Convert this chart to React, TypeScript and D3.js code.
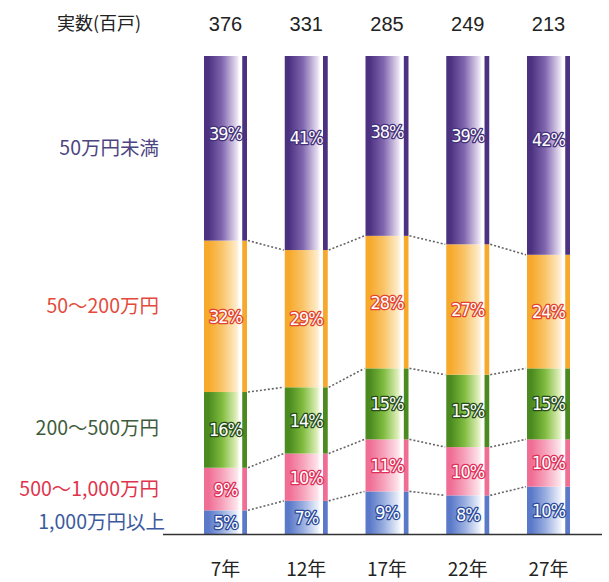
import * as d3 from "d3";

// 年次と実数（百戸）
const years = ["7年", "12年", "17年", "22年", "27年"];
const totals = [376, 331, 285, 249, 213];

// 下から順の階層
const categories = ["1,000万円以上", "500〜1,000万円", "200〜500万円", "50〜200万円", "50万円未満"];
const share1000 = [5, 7, 9, 8, 10];
const share500 = [9, 10, 11, 10, 10];
const share200 = [16, 14, 15, 15, 15];
const share50 = [32, 29, 28, 27, 24];
const shareUnder50 = [39, 41, 38, 39, 42];

const seriesValues = [share1000, share500, share200, share50, shareUnder50];

const W = 609;
const H = 582;
const BAR_W = 43;

// dark, mid, light, text stroke, legend color
const palette = [
  { dark: "#5a79c8", mid: "#97acdf", light: "#e8eefa", stroke: "#2c4b9c", legend: "#3b5a9e" },
  { dark: "#f06d94", mid: "#f6a1ba", light: "#fde3ea", stroke: "#df2f58", legend: "#e0334c" },
  { dark: "#4a8a1f", mid: "#7fbb3e", light: "#e0f0bd", stroke: "#264d17", legend: "#3e5b3b" },
  { dark: "#f6a92b", mid: "#f9c468", light: "#feeccb", stroke: "#e2432c", legend: "#e24b3b" },
  { dark: "#4c3181", mid: "#8066ae", light: "#e6ddf0", stroke: "#45307a", legend: "#4d4580" },
];

export default function App() {
  const rows = years.map((y, i) => {
    const r: Record<string, number | string> = { year: y };
    categories.forEach((c, k) => (r[c] = seriesValues[k][i]));
    return r;
  });
  const stack = d3
    .stack<Record<string, number | string>>()
    .keys(categories)
    .offset(d3.stackOffsetExpand);
  const layers = stack(rows as any);

  const x = d3.scalePoint<string>().domain(years).range([225.5, 548.5]);
  const y = d3.scaleLinear().domain([0, 1]).range([534, 56]);

  const first = layers.map((l) => l[0]);
  const legendY = first.map((s, k) => (y(s[0]) + y(s[1])) / 2 + [0, 0, -2, -10, 0][k]);

  return (
    <svg
      width={W}
      height={H}
      style={{ position: "absolute", left: 0, top: 0, background: "#fff" }}
    >
      <defs>
        {palette.map((p, k) => (
          <linearGradient key={k} id={`g${k}`} x1="0" x2="1" y1="0" y2="0">
            <stop offset="0" stopColor={p.dark} />
            <stop offset="0.1" stopColor={p.dark} />
            <stop offset="0.42" stopColor={p.mid} />
            <stop offset="0.76" stopColor={p.light} />
            <stop offset="0.83" stopColor="#ffffff" />
            <stop offset="0.88" stopColor="#ffffff" />
            <stop offset="0.9" stopColor={p.dark} />
            <stop offset="1" stopColor={p.dark} />
          </linearGradient>
        ))}
      </defs>

      {/* header */}
      <text x={57} y={30} fontSize={18} fill="#222" fontFamily="'Noto Sans CJK JP', sans-serif">
        実数(百戸)
      </text>
      {years.map((yr, i) => (
        <text
          key={yr}
          x={x(yr)}
          y={31}
          textAnchor="middle"
          fontSize={20}
          fill="#222"
          fontFamily="'Liberation Sans', Arial, sans-serif"
        >
          {totals[i]}
        </text>
      ))}

      {/* bars */}
      {layers.map((layer, k) =>
        layer.map((s, i) => (
          <rect
            key={`${k}-${i}`}
            x={(x(years[i]) as number) - BAR_W / 2}
            y={y(s[1])}
            width={BAR_W}
            height={y(s[0]) - y(s[1])}
            fill={`url(#g${k})`}
          />
        ))
      )}

      {/* dotted connectors */}
      {layers.slice(0, 4).map((layer, k) =>
        layer.slice(0, -1).map((s, i) => (
          <line
            key={`c${k}-${i}`}
            x1={(x(years[i]) as number) + BAR_W / 2 + 1}
            x2={(x(years[i + 1]) as number) - BAR_W / 2 - 1}
            y1={y(s[1])}
            y2={y(layer[i + 1][1])}
            stroke="#666"
            strokeWidth={1.6}
            strokeDasharray="2 2"
          />
        ))
      )}

      {/* percent labels */}
      {layers.map((layer, k) =>
        layer.map((s, i) => {
          const top = y(s[1]);
          const bot = y(s[0]);
          const cy = k === 4 ? top + (bot - top) * 0.42 : (top + bot) / 2;
          return (
            <text
              key={`t${k}-${i}`}
              x={x(years[i])}
              y={cy}
              dy="0.36em"
              textAnchor="middle"
              fontSize={18}
              letterSpacing={-1}
              fontFamily="'DejaVu Sans Condensed', 'Liberation Sans Narrow', sans-serif"
              fill="#ffffff"
              stroke={palette[k].stroke}
              strokeWidth={2.6}
              paintOrder="stroke"
              strokeLinejoin="round"
            >
              {seriesValues[k][i]}%
            </text>
          );
        })
      )}

      {/* baseline */}
      <line x1={163} x2={602} y1={534.5} y2={534.5} stroke="#333" strokeWidth={1.5} />

      {/* legend labels */}
      {categories.map((c, k) => (
        <text
          key={c}
          x={k === 0 ? 165 : 159}
          y={legendY[k]}
          dy="0.36em"
          textAnchor="end"
          fontSize={19.5}
          fill={palette[k].legend}
          fontFamily="'Noto Sans CJK JP', sans-serif"
        >
          {c}
        </text>
      ))}

      {/* year labels */}
      {years.map((yr) => (
        <text
          key={`y${yr}`}
          x={x(yr)}
          y={576}
          textAnchor="middle"
          fontSize={19}
          fill="#222"
          fontFamily="'Noto Sans CJK JP', sans-serif"
        >
          {yr}
        </text>
      ))}
    </svg>
  );
}
